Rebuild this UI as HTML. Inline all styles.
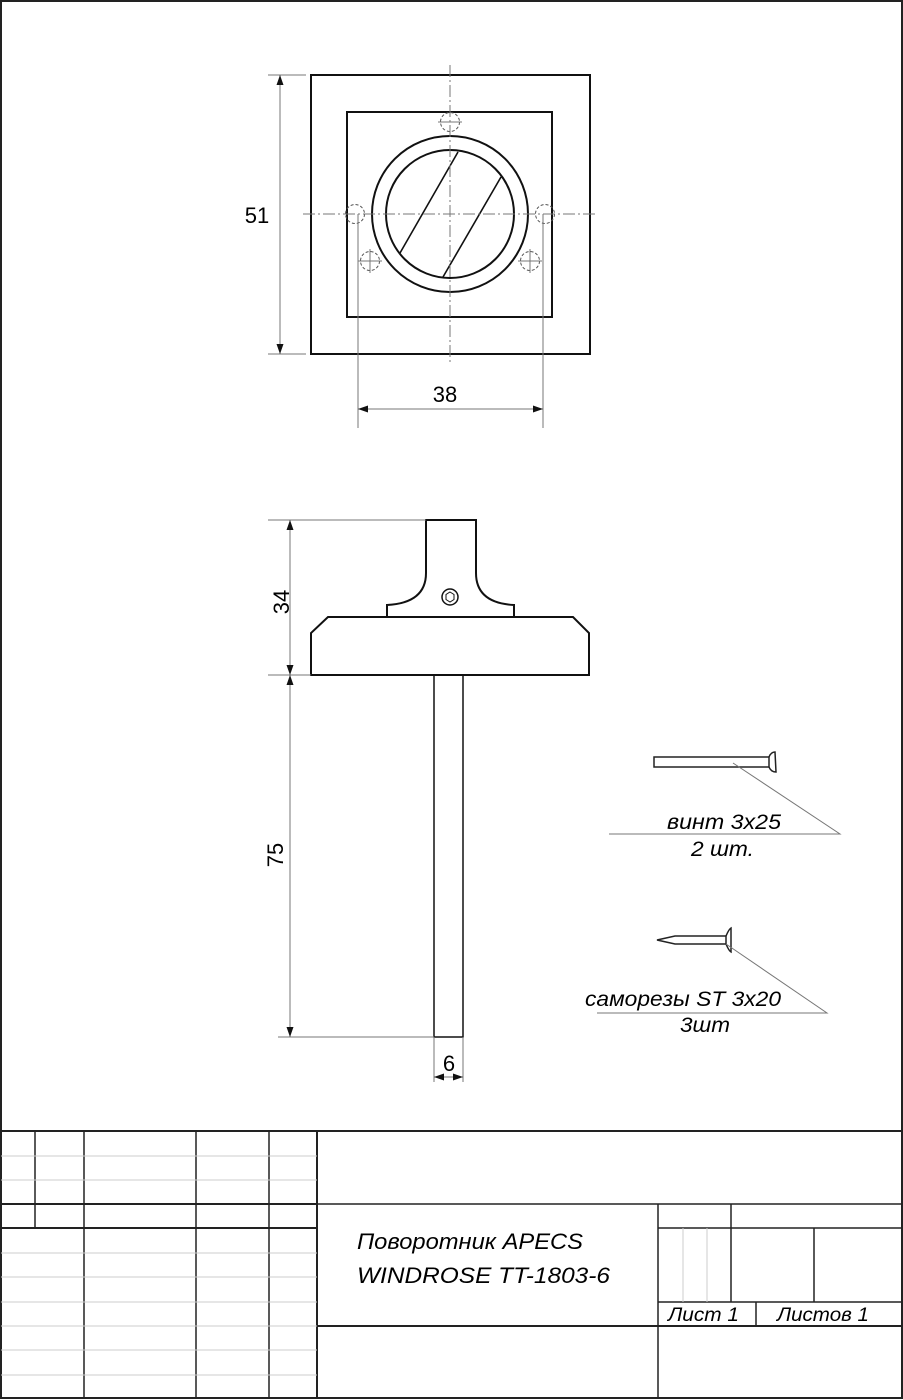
<!DOCTYPE html>
<html><head><meta charset="utf-8"><style>
html,body{margin:0;padding:0;background:#fff}
svg{display:block}
text{font-family:"Liberation Sans","DejaVu Sans",sans-serif;fill:#000}
</style></head><body>
<svg width="903" height="1400" viewBox="0 0 903 1400" xmlns="http://www.w3.org/2000/svg">
<defs>
<marker id="ar" viewBox="0 0 10 10" refX="10" refY="5" markerWidth="10" markerHeight="10" markerUnits="userSpaceOnUse" orient="auto-start-reverse"><path d="M0,1.5 L10,5 L0,8.5 z" fill="#111"/></marker>
</defs>
<rect x="1" y="1" width="901" height="1397" fill="none" stroke="#222" stroke-width="2"/>

<!-- TOP VIEW -->
<g fill="none" stroke="#111" stroke-width="2">
<rect x="311" y="75" width="279" height="279"/>
<rect x="347" y="112" width="205" height="205"/>
<circle cx="450" cy="214" r="78"/>
<circle cx="450" cy="214" r="64"/>
<line x1="458" y1="152" x2="400" y2="253" stroke-width="1.6"/>
<line x1="501" y1="177" x2="443" y2="277" stroke-width="1.6"/>
</g>
<g fill="none" stroke="#555" stroke-width="1" stroke-dasharray="3,2">
<circle cx="450" cy="122" r="9.5"/>
<circle cx="355" cy="214" r="9.5"/>
<circle cx="545" cy="214" r="9.5"/>
<circle cx="370" cy="261" r="9.5"/>
<circle cx="530" cy="261" r="9.5"/>
</g>
<g stroke="#777" stroke-width="1">
<line x1="450" y1="65" x2="450" y2="362" stroke-dasharray="12,3,2,3"/>
<line x1="303" y1="214" x2="597" y2="214" stroke-dasharray="12,3,2,3"/>
<line x1="438" y1="122" x2="462" y2="122"/>
<line x1="358" y1="261" x2="382" y2="261"/><line x1="370" y1="249" x2="370" y2="273"/>
<line x1="518" y1="261" x2="542" y2="261"/><line x1="530" y1="249" x2="530" y2="273"/>
<line x1="358" y1="214" x2="358" y2="428"/>
<line x1="543" y1="214" x2="543" y2="428"/>
<line x1="268" y1="75" x2="306" y2="75"/>
<line x1="268" y1="354" x2="306" y2="354"/>
<line x1="280" y1="75" x2="280" y2="354" marker-start="url(#ar)" marker-end="url(#ar)"/>
<line x1="358" y1="409" x2="543" y2="409" marker-start="url(#ar)" marker-end="url(#ar)"/>
</g>
<text x="257" y="223" font-size="22" text-anchor="middle">51</text>
<text x="445" y="402" font-size="22" text-anchor="middle">38</text>

<!-- SIDE VIEW -->
<g fill="none" stroke="#111" stroke-width="2">
<path d="M426,520 L476,520 L476,573 Q476,603 514,605 L514,617 L387,617 L387,605 Q426,603 426,573 Z"/>
<path d="M328,617 L573,617 L589,633 L589,675 L311,675 L311,633 Z"/>
<circle cx="450" cy="597" r="8" stroke-width="1.5"/>
<path d="M450,592 l4,2.5 v5 l-4,2.5 l-4,-2.5 v-5 z" stroke-width="1"/>
<rect x="434" y="675" width="29" height="362" stroke-width="1.5"/>
</g>
<g stroke="#777" stroke-width="1">
<line x1="268" y1="520" x2="426" y2="520"/>
<line x1="268" y1="675" x2="311" y2="675"/>
<line x1="278" y1="1037" x2="434" y2="1037"/>
<line x1="290" y1="520" x2="290" y2="675" marker-start="url(#ar)" marker-end="url(#ar)"/>
<line x1="290" y1="675" x2="290" y2="1037" marker-start="url(#ar)" marker-end="url(#ar)"/>
<line x1="434" y1="1037" x2="434" y2="1082"/>
<line x1="463" y1="1037" x2="463" y2="1082"/>
<line x1="434" y1="1077" x2="463" y2="1077" marker-start="url(#ar)" marker-end="url(#ar)"/>
</g>
<text transform="translate(289,602) rotate(-90)" font-size="22" text-anchor="middle">34</text>
<text transform="translate(283,855) rotate(-90)" font-size="22" text-anchor="middle">75</text>
<text x="449" y="1071" font-size="22" text-anchor="middle">6</text>

<!-- SCREWS -->
<g fill="none" stroke="#222" stroke-width="1.5">
<rect x="654" y="757" width="115" height="10"/>
<path d="M769,757 Q771,752 775,752 L776,772 Q771,772 769,767"/>
<path d="M675,936 L726,936 L726,944 L675,944 L657,940 Z"/>
<path d="M726,936 Q729,929 731,928 L731,952 Q729,951 726,944"/>
</g>
<g stroke="#777" stroke-width="1" fill="none">
<polyline points="733,763 840,834 609,834"/>
<polyline points="726,944 827,1013 597,1013"/>
</g>
<g font-style="italic" font-size="21">
<text x="667" y="829" textLength="114" lengthAdjust="spacingAndGlyphs">винт 3x25</text>
<text x="691" y="856" textLength="63" lengthAdjust="spacingAndGlyphs">2 шт.</text>
<text x="585" y="1006" textLength="196" lengthAdjust="spacingAndGlyphs">саморезы ST 3x20</text>
<text x="680" y="1032" textLength="50" lengthAdjust="spacingAndGlyphs">3шт</text>
</g>

<!-- TITLE BLOCK -->
<g stroke="#222" stroke-width="2" fill="none">
<line x1="1" y1="1131" x2="902" y2="1131"/>
<line x1="1" y1="1204" x2="317" y2="1204"/>
<line x1="317" y1="1204" x2="902" y2="1204" stroke-width="1.5"/>
<line x1="1" y1="1228" x2="317" y2="1228"/>
<line x1="658" y1="1228" x2="902" y2="1228" stroke-width="1.5"/>
<line x1="658" y1="1302" x2="902" y2="1302" stroke-width="1.5"/>
<line x1="317" y1="1326" x2="902" y2="1326"/>
<line x1="35" y1="1131" x2="35" y2="1228" stroke-width="1.5"/>
<line x1="84" y1="1131" x2="84" y2="1398" stroke-width="1.5"/>
<line x1="196" y1="1131" x2="196" y2="1398" stroke-width="1.5"/>
<line x1="269" y1="1131" x2="269" y2="1398" stroke-width="1.5"/>
<line x1="317" y1="1131" x2="317" y2="1398"/>
<line x1="658" y1="1204" x2="658" y2="1398" stroke-width="1.5"/>
<line x1="731" y1="1204" x2="731" y2="1302" stroke-width="1.5"/>
<line x1="814" y1="1228" x2="814" y2="1302" stroke-width="1.5"/>
<line x1="756" y1="1302" x2="756" y2="1326" stroke-width="1.5"/>
</g>
<g stroke="#ccc" stroke-width="1">
<line x1="1" y1="1156" x2="317" y2="1156"/>
<line x1="1" y1="1180" x2="317" y2="1180"/>
<line x1="1" y1="1253" x2="317" y2="1253"/>
<line x1="1" y1="1277" x2="317" y2="1277"/>
<line x1="1" y1="1302" x2="317" y2="1302"/>
<line x1="1" y1="1326" x2="317" y2="1326"/>
<line x1="1" y1="1350" x2="317" y2="1350"/>
<line x1="1" y1="1375" x2="317" y2="1375"/>
<line x1="683" y1="1228" x2="683" y2="1302"/>
<line x1="707" y1="1228" x2="707" y2="1302"/>
</g>
<g font-style="italic">
<text x="357" y="1249" font-size="22" textLength="226" lengthAdjust="spacingAndGlyphs">Поворотник APECS</text>
<text x="357" y="1283" font-size="22" textLength="253" lengthAdjust="spacingAndGlyphs">WINDROSE TT-1803-6</text>
<text x="668" y="1321" font-size="19" textLength="71" lengthAdjust="spacingAndGlyphs">Лист 1</text>
<text x="777" y="1321" font-size="19" textLength="92" lengthAdjust="spacingAndGlyphs">Листов 1</text>
</g>
</svg>
</body></html>
